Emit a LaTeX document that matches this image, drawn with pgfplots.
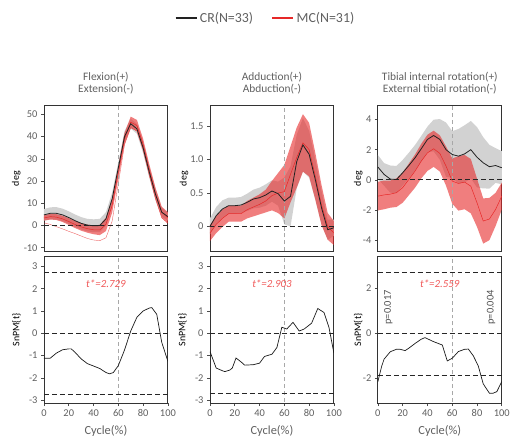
\documentclass[border=0pt]{standalone}
\usepackage{pgfplots}
\pgfplotsset{compat=1.18}
\usepackage{pgfplotstable}
\usepgfplotslibrary{fillbetween}
\usepackage{fontspec}
\setmainfont{Carlito}
\definecolor{txt}{HTML}{606060}
\definecolor{crline}{HTML}{222222}
\definecolor{mcred}{HTML}{E62828}
\definecolor{bandgray}{HTML}{D2D2D2}
\definecolor{vgray}{HTML}{A8A8A8}
\definecolor{tred}{HTML}{F05A5A}
\definecolor{ptxt}{HTML}{505050}

\pgfplotstableread{
x crm crs mcm mcs mcl
0 4.8 2.6 3.4 1.2 1.2
5 5.5 2.7 4.0 1.3 0.5
10 5.5 2.8 3.8 1.3 -0.5
15 4.8 2.8 3.0 1.4 -1.5
20 3.6 2.8 1.8 1.5 -2.6
25 2.2 2.8 0.5 1.6 -3.6
30 1.0 2.8 -0.6 1.7 -4.7
35 0.2 2.8 -1.4 1.8 -5.8
40 -0.1 2.9 -1.9 2.0 -6.5
45 0.0 3.0 -2.0 2.3 -6.8
50 3.0 3.0 0.5 3.0 -5.5
55 12.0 2.8 9.0 3.2 2.0
60 26.0 2.6 24.0 3.0 19.0
65 40.0 2.5 39.0 2.6 36.4
70 45.8 2.2 46.5 2.5 44.0
75 43.5 2.2 45.0 2.5 42.5
80 35.0 2.5 36.5 2.5 34.0
85 24.0 2.5 25.0 2.5 22.5
90 14.0 2.5 14.5 2.5 12.0
95 6.0 2.0 6.0 2.5 3.5
100 4.0 1.8 3.5 2.5 1.0
}\kinA

\pgfplotstableread{
x crm crs mcm mcs
0 0.00 0.12 -0.10 0.12
5 0.16 0.13 0.03 0.13
10 0.26 0.13 0.12 0.13
15 0.31 0.12 0.19 0.12
20 0.31 0.12 0.19 0.12
25 0.32 0.12 0.19 0.12
30 0.36 0.13 0.25 0.13
35 0.41 0.14 0.29 0.14
40 0.43 0.15 0.33 0.15
45 0.47 0.16 0.38 0.17
50 0.53 0.16 0.46 0.22
55 0.49 0.18 0.50 0.30
60 0.38 0.35 0.52 0.40
65 0.45 0.45 0.78 0.42
70 0.97 0.40 1.03 0.45
75 1.22 0.40 1.25 0.43
80 1.08 0.35 1.15 0.40
85 0.70 0.30 0.75 0.35
90 0.28 0.25 0.32 0.30
95 -0.05 0.15 0.00 0.20
100 -0.02 0.12 -0.10 0.18
}\kinB

\pgfplotstableread{
x crm crs mcm mcs
0 0.85 0.80 -1.08 0.95
5 0.36 0.75 -1.00 0.95
10 0.05 0.90 -0.95 0.90
15 0.02 0.90 -0.85 0.95
20 0.47 0.85 -0.52 1.00
25 0.95 0.85 0.03 1.05
30 1.46 0.85 0.58 1.10
35 2.06 0.85 1.24 1.15
40 2.68 0.85 1.79 1.20
45 2.94 1.05 2.06 1.20
50 2.68 1.35 1.75 1.20
55 2.00 1.80 0.91 1.30
60 1.68 1.55 -0.08 1.50
65 1.57 1.80 -0.24 1.80
70 1.72 1.90 -0.15 1.80
75 2.00 1.90 -0.42 1.80
80 1.50 2.00 -1.52 1.60
85 1.13 1.70 -2.73 1.50
90 0.87 1.45 -2.60 1.40
95 0.95 1.15 -1.96 1.10
100 0.80 1.10 -1.08 0.90
}\kinC

\pgfplotstableread{
x t
0 -1.12
5 -1.12
10 -0.89
15 -0.74
20 -0.70
22 -0.70
25 -0.85
30 -1.15
35 -1.36
40 -1.47
45 -1.58
50 -1.76
53 -1.82
56 -1.76
60 -1.45
65 -0.75
70 0.10
75 0.72
80 1.00
85 1.13
87 1.15
91 0.85
95 -0.40
100 -1.26
}\snA

\pgfplotstableread{
x t
0 -0.82
5 -1.56
10 -1.68
12 -1.72
16 -1.65
18 -1.56
21 -1.11
25 -1.28
28 -1.43
35 -1.41
40 -1.34
44 -1.04
50 -0.94
54 -0.64
58 0.27
62 0.19
67 0.49
72 0.10
76 0.19
82 0.45
87 1.11
92 0.93
96 0.27
100 -0.89
}\snB

\pgfplotstableread{
x t
0 -2.15
3 -1.48
5 -1.15
10 -0.82
15 -0.71
18 -0.71
22 -0.77
25 -0.66
30 -0.45
35 -0.26
38 -0.19
45 -0.37
52 -0.52
56 -1.23
60 -1.11
65 -0.81
70 -0.71
73 -0.70
77 -1.00
81 -1.45
85 -2.25
90 -2.67
93 -2.67
96 -2.60
100 -2.15
}\snC

\pgfplotsset{
  panel/.style={
    scale only axis, width=124.5bp, height=147bp,
    xmin=0, xmax=100,
    axis line style={draw=black!80, line width=0.8bp},
    tick align=outside, tick pos=left, major tick length=3bp,
    tick style={black!70, line width=0.6bp},
    ticklabel style={font=\fontsize{10.5}{12}\selectfont, text=txt},
    /pgf/number format/assume math mode=true,
    label style={font=\fontsize{12.5}{14}\selectfont, text=txt},
    every axis y label/.style={rotate=90, anchor=center},
    title style={font=\fontsize{11.5}{12.7}\selectfont, text=txt, align=center,
      anchor=south, inner sep=0pt, yshift=5bp, at={(axis description cs:0.5,1)}},
  },
  toppanel/.style={panel, xtick=\empty, ylabel={deg}},
  botpanel/.style={panel, xtick={0,20,...,100}, xlabel={Cycle(\%)},
    xlabel style={at={(axis description cs:0.5,-0.19)}, anchor=center},
    ylabel={SnPM\{t\}}},
  vline/.style={vgray, line width=0.9bp, dash pattern=on 4bp off 3bp, forget plot},
  hline/.style={black!85, line width=0.9bp, dash pattern=on 5bp off 3bp, forget plot},
  crmean/.style={crline, line width=0.8bp, forget plot},
  mcmean/.style={mcred, line width=0.5bp, forget plot},
  crband/.style={fill=bandgray, draw=none, forget plot},
  mcband/.style={fill=mcred, fill opacity=0.6, draw=none, forget plot},
}

\begin{document}
\begin{tikzpicture}
% ---------- Top row ----------
\begin{axis}[toppanel, at={(44.2bp,332bp)}, anchor=north west,
  ymin=-11.8, ymax=54, ytick={-10,0,...,50},
  ylabel style={at={(axis description cs:-0.224,0.5)}},
  title={Flexion(+)\\Extension(-)},
  legend style={at={(1.786,1.599)}, anchor=center, draw=none, fill=none,
    font=\fontsize{14}{16}\selectfont, text=txt, legend columns=2,
    /tikz/every even column/.append style={column sep=16bp}},
  legend image code/.code={\draw[line width=2.7bp] (0bp,0bp) -- (21bp,0bp);}]
\addlegendimage{crline}\addlegendentry{CR(N=33)}
\addlegendimage{mcred}\addlegendentry{MC(N=31)}
\addplot[name path=au, draw=none, forget plot] table[x=x, y expr=\thisrow{crm}+\thisrow{crs}] {\kinA};
\addplot[name path=al, draw=none, forget plot] table[x=x, y expr=\thisrow{crm}-\thisrow{crs}] {\kinA};
\addplot[crband] fill between[of=au and al];
\addplot[name path=bu, draw=none, forget plot] table[x=x, y expr=\thisrow{mcm}+\thisrow{mcs}] {\kinA};
\addplot[name path=bl, draw=none, forget plot] table[x=x, y expr=\thisrow{mcm}-\thisrow{mcs}] {\kinA};
\addplot[mcband] fill between[of=bu and bl];
\addplot[mcred, line width=0.4bp, opacity=0.7, forget plot] table[x=x, y=mcl] {\kinA};
\addplot[vline] coordinates {(60,-20) (60,60)};
\addplot[hline] coordinates {(0,0) (100,0)};
\addplot[mcmean] table[x=x, y=mcm] {\kinA};
\addplot[crmean] table[x=x, y=crm] {\kinA};
\end{axis}

\begin{axis}[toppanel, at={(211bp,332bp)}, anchor=north west,
  ymin=-0.38, ymax=1.81, ytick={0,0.5,1,1.5}, yticklabels={0,0.5,1.0,1.5},
  ylabel style={at={(axis description cs:-0.21,0.5)}},
  title={Adduction(+)\\Abduction(-)}]
\addplot[name path=au, draw=none, forget plot] table[x=x, y expr=\thisrow{crm}+\thisrow{crs}] {\kinB};
\addplot[name path=al, draw=none, forget plot] table[x=x, y expr=\thisrow{crm}-\thisrow{crs}] {\kinB};
\addplot[crband] fill between[of=au and al];
\addplot[name path=bu, draw=none, forget plot] table[x=x, y expr=\thisrow{mcm}+\thisrow{mcs}] {\kinB};
\addplot[name path=bl, draw=none, forget plot] table[x=x, y expr=\thisrow{mcm}-\thisrow{mcs}] {\kinB};
\addplot[mcband] fill between[of=bu and bl];
\addplot[vline] coordinates {(60,-1) (60,2)};
\addplot[hline] coordinates {(0,0) (100,0)};
\addplot[mcmean] table[x=x, y=mcm] {\kinB};
\addplot[crmean] table[x=x, y=crm] {\kinB};
\end{axis}

\begin{axis}[toppanel, at={(379.7bp,332bp)}, anchor=north west,
  ymin=-4.77, ymax=4.93, ytick={-4,-2,0,2,4},
  ylabel style={at={(axis description cs:-0.158,0.5)}},
  title={Tibial internal rotation(+)\\External tibial rotation(-)}]
\addplot[name path=au, draw=none, forget plot] table[x=x, y expr=\thisrow{crm}+\thisrow{crs}] {\kinC};
\addplot[name path=al, draw=none, forget plot] table[x=x, y expr=\thisrow{crm}-\thisrow{crs}] {\kinC};
\addplot[crband] fill between[of=au and al];
\addplot[name path=bu, draw=none, forget plot] table[x=x, y expr=\thisrow{mcm}+\thisrow{mcs}] {\kinC};
\addplot[name path=bl, draw=none, forget plot] table[x=x, y expr=\thisrow{mcm}-\thisrow{mcs}] {\kinC};
\addplot[mcband] fill between[of=bu and bl];
\addplot[vline] coordinates {(60,-6) (60,6)};
\addplot[hline] coordinates {(0,0) (100,0)};
\addplot[mcmean] table[x=x, y=mcm] {\kinC};
\addplot[crmean] table[x=x, y=crm] {\kinC};
\end{axis}

% ---------- Bottom row ----------
\begin{axis}[botpanel, at={(44.2bp,180bp)}, anchor=north west,
  ymin=-3.13, ymax=3.43, ytick={-3,-2,...,3},
  ylabel style={at={(axis description cs:-0.222,0.5)}}]
\addplot[vline] coordinates {(60,-4) (60,4)};
\addplot[hline] coordinates {(0,2.729) (100,2.729)};
\addplot[hline] coordinates {(0,-2.729) (100,-2.729)};
\addplot[hline] coordinates {(0,0) (100,0)};
\addplot[black!90, line width=0.7bp, forget plot] table[x=x, y=t] {\snA};
\node[text=tred, font=\itshape\fontsize{11}{13}\selectfont] at (axis cs:50,2.23) {t*=2.729};
\end{axis}

\begin{axis}[botpanel, at={(211bp,180bp)}, anchor=north west,
  ymin=-3.13, ymax=3.43, ytick={-3,-2,...,3},
  ylabel style={at={(axis description cs:-0.222,0.5)}}]
\addplot[vline] coordinates {(60,-4) (60,4)};
\addplot[hline] coordinates {(0,2.72) (100,2.72)};
\addplot[hline] coordinates {(0,-2.70) (100,-2.70)};
\addplot[hline] coordinates {(0,0) (100,0)};
\addplot[black!90, line width=0.7bp, forget plot] table[x=x, y=t] {\snB};
\node[text=tred, font=\itshape\fontsize{11}{13}\selectfont] at (axis cs:50,2.23) {t*=2.903};
\end{axis}

\begin{axis}[botpanel, at={(379.7bp,180bp)}, anchor=north west,
  ymin=-3.11, ymax=3.42, ytick={-2,0,2},
  ylabel style={at={(axis description cs:-0.158,0.5)}}]
\addplot[vline] coordinates {(60,-4) (60,4)};
\addplot[hline] coordinates {(0,2.72) (100,2.72)};
\addplot[hline] coordinates {(0,-1.88) (100,-1.88)};
\addplot[hline] coordinates {(0,0) (100,0)};
\addplot[black!90, line width=0.7bp, forget plot] table[x=x, y=t] {\snC};
\node[text=tred, font=\itshape\fontsize{11}{13}\selectfont] at (axis cs:50,2.23) {t*=2.559};
\node[rotate=90, text=ptxt, font=\fontsize{10.5}{12}\selectfont] at (axis cs:8.4,1.16) {p=0.017};
\node[rotate=90, text=ptxt, font=\fontsize{10.5}{12}\selectfont] at (axis cs:91.4,1.16) {p=0.004};
\end{axis}
\path (0,0) rectangle (513bp,438bp);
\end{tikzpicture}
\end{document}
